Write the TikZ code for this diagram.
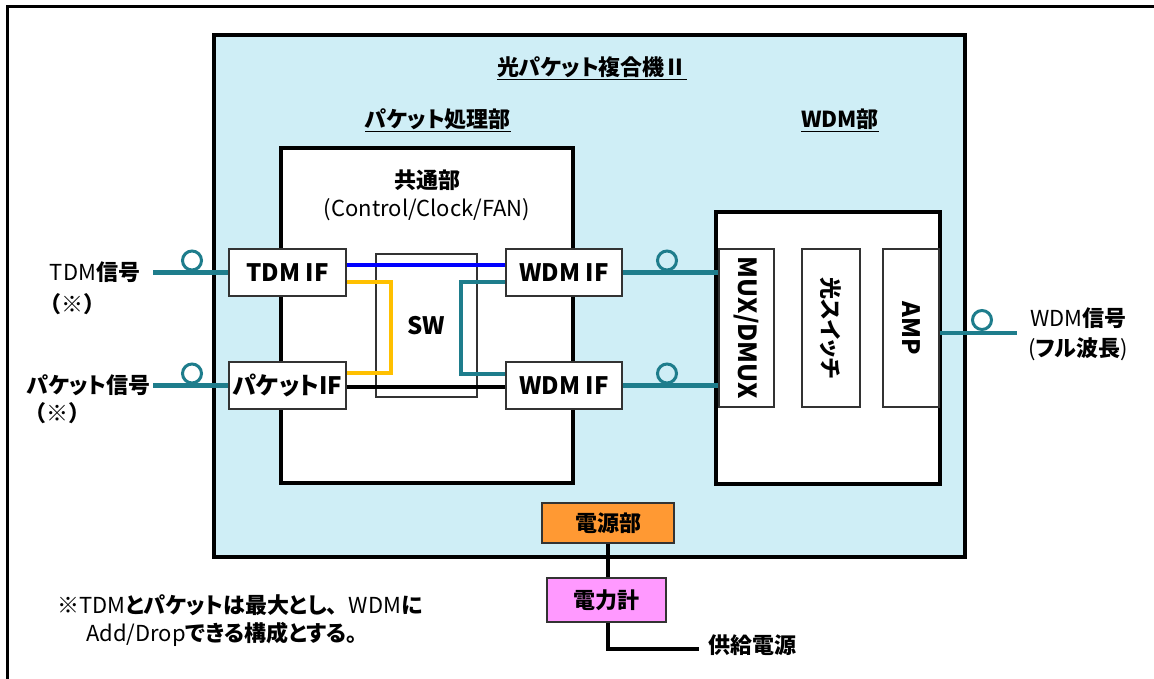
\documentclass[tikz,border=0pt]{standalone}
\usepackage{fontspec}
\setmainfont{Noto Sans CJK JP}[RawFeature=+palt]
\newfontfamily\jfull{Noto Sans CJK JP}
\definecolor{bgcyan}{RGB}{207,238,246}
\definecolor{fiber}{RGB}{30,125,140}
\definecolor{swline}{RGB}{255,192,0}
\definecolor{psu}{RGB}{255,153,51}
\definecolor{meter}{RGB}{255,153,255}
\newcommand{\fj}{\fontsize{22}{26}\selectfont}
\newcommand{\fl}{\fontsize{24}{28}\selectfont}
\tikzset{
  bigbox/.style={draw=black,line width=4pt,fill=white},
  ifbox/.style={draw=black!80,line width=1.2pt,fill=white,minimum width=117pt,minimum height=47pt,inner sep=0pt,font=\fl\bfseries},
  unitbox/.style={draw=black!80,line width=1.2pt,fill=white,minimum width=56pt,minimum height=158pt,inner sep=0pt,font=\fl\bfseries},
  fib/.style={draw=fiber,line width=4.5pt},
  loopc/.style={draw=fiber,line width=3pt},
  sig/.style={line width=4pt},
  txt/.style={inner sep=0pt,font=\fj},
}
\begin{document}
\begin{tikzpicture}[x=1pt,y=-1pt]
\useasboundingbox (0,0) rectangle (1154,679);
% outer frame
\draw[line width=3pt] (7,679) -- (7,7) -- (1154,7);
% main box
\draw[line width=4pt,fill=bgcyan] (214,35) rectangle (965,557);
\node[txt] (title) at (592,68) {\bfseries\underline{光パケット複合機Ⅱ}};
\node[txt] (pkthead) at (438,120) {\bfseries\underline{パケット処理部}};
\node[txt] (wdmhead) at (840,120) {\bfseries\underline{WDM部}};
% common block
\draw[bigbox] (281,148) rectangle (573,483);
\node[txt] (kyotsu) at (427,180) {\bfseries 共通部};
\node[txt] (ctrl) at (427,210) {(Control/Clock/FAN)};
% SW
\node[draw=black!80,line width=1.2pt,minimum width=101pt,minimum height=143pt,inner sep=0pt,font=\fl\bfseries] (sw) at (426.5,325.5) {SW};
% IF boxes
\node[ifbox] (tdmif) at (287.5,272.5) {TDM IF};
\node[ifbox] (pktif) at (287.5,385.5) {パケットIF};
\node[ifbox,minimum width=116pt] (wdmif1) at (564,272.5) {WDM IF};
\node[ifbox,minimum width=116pt] (wdmif2) at (564,385.5) {WDM IF};
% internal lines
\draw[sig,blue] ([yshift=7.5pt]tdmif.east) -- ([yshift=7.5pt]wdmif1.west);
\draw[sig,swline] ([yshift=-9.5pt]tdmif.east) -| (391,373) -- ([yshift=12.5pt]pktif.east);
\draw[sig,black] ([yshift=-1.5pt]pktif.east) -- ([yshift=-1.5pt]wdmif2.west);
\draw[sig,fiber] ([yshift=-9.5pt]wdmif1.west) -| (461,374) -- ([yshift=11.5pt]wdmif2.west);
% WDM block
\draw[bigbox] (716,212) rectangle (940,484);
\node[unitbox,minimum width=55pt] (mux) at (746.5,328) {};
\node[rotate=-90,inner sep=0pt,font=\fontsize{25}{28}\selectfont\bfseries] (muxt) at (mux.center) {MUX/DMUX};
\node[unitbox,minimum width=58pt] (osw) at (831,328) {};
\node[rotate=-90,inner sep=0pt,font=\fj\bfseries] (oswt) at (osw.center) {光スイッチ};
\node[unitbox,minimum width=56pt] (amp) at (911,328) {};
\node[rotate=-90,inner sep=0pt,font=\fl\bfseries] (ampt) at (amp.center) {AMP};
% left inputs
\coordinate (tdmin) at (153,272.5);
\coordinate (pktin) at (153,385.5);
\draw[fib] (tdmin) -- (tdmif.west);
\draw[fib] (pktin) -- (pktif.west);
\draw[loopc] (192,260.5) circle[radius=9.5pt];
\draw[loopc] (192,373.5) circle[radius=9.5pt];
\node[txt] (tdmlab) at (95,272) {TDM\bfseries 信号};
\node[txt] (tdmnote) at (72,304) {\jfull\bfseries （※）};
\node[txt,anchor=east] (pktlab) at (151,385) {\bfseries パケット信号};
\node[txt] (pktnote) at (57,413) {\jfull\bfseries （※）};
% WDM IF to MUX
\draw[fib] (wdmif1.east) -- (wdmif1.east -| mux.west);
\draw[fib] (wdmif2.east) -- (wdmif2.east -| mux.west);
\draw[loopc] (667,260.5) circle[radius=9.5pt];
\draw[loopc] (667,373.5) circle[radius=9.5pt];
% AMP out
\coordinate (wdmout) at (1017,333);
\draw[fib] ([yshift=-5pt]amp.east) -- (wdmout);
\draw[loopc] (982,320) circle[radius=9.5pt];
\node[txt,anchor=west] (wdmlab) at (1030,318) {WDM\bfseries 信号};
\node[txt,anchor=west] (wdmnote) at (1028,349) {(\bfseries フル波長\mdseries)};
% power
\node[draw=black!80,line width=1.2pt,fill=psu,minimum width=132pt,minimum height=40pt,inner sep=0pt,font=\fj\bfseries] (psu) at (608,523) {電源部};
\node[draw=black!80,line width=1.2pt,fill=meter,minimum width=119pt,minimum height=44pt,inner sep=0pt,font=\fj\bfseries] (pm) at (606.5,600) {電力計};
\draw[line width=4.5pt] (psu.south -| 608,0) -- (pm.north -| 608,0);
\coordinate (feed) at (699,649);
\draw[line width=4.5pt] (pm.south -| 608,0) |- (feed);
\node[txt,anchor=west] (feedlab) at (708,645) {\bfseries 供給電源};
% footnote
\node[txt,anchor=west] (note1) at (57,605) {※TDM\bfseries とパケットは最大とし{\jfull 、}\mdseries WDM\bfseries に};
\node[txt,anchor=west] (note2) at (86,634) {Add/Drop\bfseries できる構成とする。};
\end{tikzpicture}
\end{document}
